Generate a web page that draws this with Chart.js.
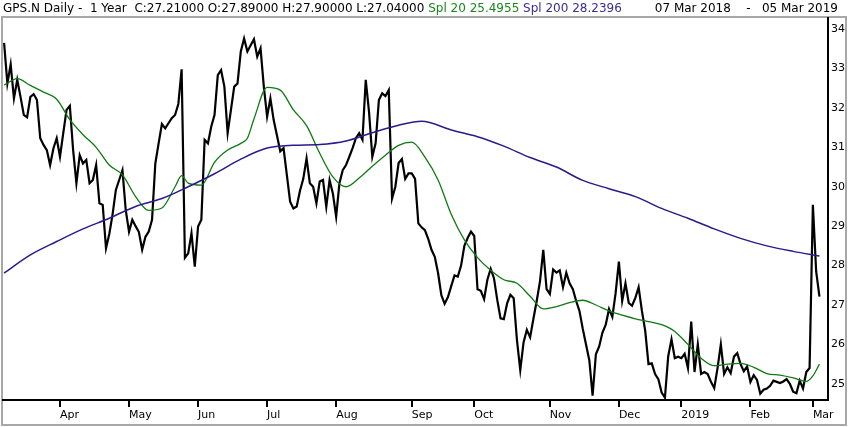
<!DOCTYPE html>
<html>
<head>
<meta charset="utf-8">
<script src="https://cdn.jsdelivr.net/npm/chart.js@4.4.1/dist/chart.umd.min.js"></script>
<style>
  html, body { margin: 0; padding: 0; background: #fff; }
  #wrap { position: relative; width: 850px; height: 427px; overflow: hidden; }
  #frame {
    position: absolute; left: 1px; top: 16px; width: 846px; height: 410px;
    border: 2px solid #a8a8a8; box-sizing: border-box;
  }
  #chart { position: absolute; left: 0; top: 0; }
  .hdr {
    position: absolute; top: 0; font-family: "DejaVu Sans", sans-serif;
    font-size: 12px; line-height: 16px; white-space: pre; color: #000;
  }
  #title { left: 3px; }
  #range { right: 12px; }
  .g { color: #1a861a; }
  .p { color: #3b2d91; }
</style>
</head>
<body>
<div id="wrap">
  <div id="frame"></div>
  <canvas id="chart" width="850" height="427"></canvas>
  <div class="hdr" id="title">GPS.N Daily -  1 Year  C:27.21000 O:27.89000 H:27.90000 L:27.04000 <span class="g">Spl 20 25.4955</span> <span class="p">Spl 200 28.2396</span></div>
  <div class="hdr" id="range">07 Mar 2018    -   05 Mar 2019</div>
</div>
<script>
// daily closes, one per trading day (07 Mar 2018 .. 05 Mar 2019)
const closes = [
  33.65, 32.62, 33.1, 32.24, 32.71, 32.28, 31.82, 31.76, 32.28, 32.35,
  32.2, 31.23, 31.06, 30.93, 30.55, 30.97, 31.23, 30.76, 31.36, 31.95,
  32.05, 30.93, 30.09, 30.8, 30.59, 30.68, 30.09, 30.17, 30.55, 29.58,
  29.54, 28.44, 28.8, 29.3, 29.92, 30.17, 30.42, 29.41, 28.86, 29.16,
  29.0, 28.85, 28.4, 28.73, 28.86, 29.16, 30.59, 31.1, 31.59, 31.48,
  31.61, 31.74, 31.82, 32.1, 32.98, 28.2, 28.31, 28.82, 27.97, 28.99,
  29.16, 31.19, 31.1, 31.52, 31.82, 32.83, 32.96, 32.54, 31.36, 31.95,
  32.54, 32.62, 33.43, 33.76, 33.43, 33.59, 33.74, 33.3, 33.51, 32.54,
  31.78, 32.24, 31.69, 31.3, 30.9, 30.98, 30.3, 29.62, 29.45, 29.5,
  29.9, 30.2, 30.72, 30.09, 30.0, 29.58, 30.13, 30.17, 29.49, 30.17,
  29.83, 29.24, 30.09, 30.42, 30.55, 30.76, 30.98, 31.23, 31.36, 31.19,
  32.71, 31.9, 30.76, 31.1, 32.2, 32.37, 32.3, 32.45, 29.7, 30.0,
  30.6, 30.7, 30.2, 30.34, 30.34, 30.2, 29.07, 28.97, 28.9, 28.68,
  28.4, 28.22, 27.81, 27.25, 27.03, 27.2, 27.48, 27.75, 27.72, 28.0,
  28.5, 28.7, 28.86, 28.75, 27.4, 27.36, 27.15, 27.64, 27.92, 27.68,
  27.13, 26.66, 26.64, 27.04, 27.26, 27.17, 26.1, 25.35, 26.05, 26.37,
  26.18, 26.65, 27.1, 27.6, 28.4, 27.4, 27.28, 27.9, 27.82, 27.88,
  27.45, 27.82, 27.55, 27.4, 27.1, 26.85, 26.4, 26.0, 25.6, 24.7,
  25.75, 25.95, 26.3, 26.5, 26.9, 26.7, 27.3, 28.1, 27.1, 27.55,
  27.05, 26.98, 27.18, 27.45, 26.85, 26.35, 25.5, 25.52, 25.25, 25.12,
  24.78, 24.65, 25.7, 26.13, 25.65, 25.69, 25.65, 25.76, 25.4, 26.58,
  25.3, 26.0, 25.25, 25.3, 25.25, 25.05, 24.89, 25.4, 26.0, 25.25,
  25.42, 25.27, 25.69, 25.78, 25.5, 25.32, 25.44, 25.05, 25.22, 25.1,
  24.75, 24.85, 24.88, 24.95, 25.08, 25.05, 25.02, 25.06, 25.12, 25.0,
  24.8, 24.76, 25.08, 24.88, 25.3, 25.4, 29.54, 27.85, 27.21,
];

// Spl 20 (green) read at sampled trading days
const spl20Days = [
  0, 4, 8, 12, 16, 20, 24, 28, 32, 36, 40, 44, 48, 52, 54, 56, 60, 64,
  68, 72, 74, 76, 80, 84, 88, 92, 96, 100, 104, 108, 112, 116, 120, 124,
  128, 132, 136, 140, 144, 148, 152, 156, 160, 164, 168, 172, 176, 180,
  184, 188, 192, 196, 200, 204, 208, 212, 216, 220, 224, 228, 232, 236,
  240, 244, 246, 248,
];
const spl20Values = [
  32.58, 32.74, 32.57, 32.4, 32.22, 31.7, 31.32, 31.0, 30.55, 30.3, 29.75,
  29.4, 29.46, 30.0, 30.28, 30.09, 30.04, 30.62, 30.93, 31.1, 31.23, 31.72,
  32.52, 32.45, 31.95, 31.55, 30.85, 30.25, 30.0, 30.22, 30.52, 30.8, 31.05,
  31.13, 30.75, 30.17, 29.3, 28.65, 28.2, 27.88, 27.64, 27.55, 27.22, 26.9,
  26.96, 27.06, 27.12, 27.0, 26.85, 26.74, 26.65, 26.58, 26.5, 26.33, 26.0,
  25.65, 25.46, 25.5, 25.52, 25.42, 25.26, 25.22, 25.15, 25.06, 25.2, 25.5,
];

// Spl 200 (blue) read at sampled trading days
const spl200Days = [
  0, 8, 16, 24, 32, 40, 48, 56, 64, 72, 80, 88, 96, 104, 112, 120, 127,
  136, 144, 152, 160, 168, 176, 184, 192, 200, 208, 216, 224, 232, 240, 248,
];
const spl200Values = [
  27.81, 28.27, 28.61, 28.93, 29.2, 29.5, 29.7, 30.0, 30.33, 30.7, 30.98,
  31.05, 31.07, 31.16, 31.37, 31.56, 31.66, 31.44, 31.27, 31.03, 30.74,
  30.5, 30.16, 29.95, 29.75, 29.45, 29.2, 28.93, 28.69, 28.5, 28.36, 28.24,
];

const monthStartDays = [17, 38, 59, 80, 101, 124, 143, 166, 187, 206, 227, 246];
const monthLabels = ["Apr", "May", "Jun", "Jul", "Aug", "Sep", "Oct", "Nov", "Dec", "2019", "Feb", "Mar"];
const priceTicks = [25, 26, 27, 28, 29, 30, 31, 32, 33, 34];

const axisFont = { family: "DejaVu Sans", size: 11 };

new Chart(document.getElementById("chart"), {
  type: "line",
  data: {
    datasets: [
      {
        label: "Spl 200",
        data: spl200Days.map((d, i) => ({ x: d, y: spl200Values[i] })),
        borderColor: "#2a1a8c",
        borderWidth: 1.5,
        cubicInterpolationMode: "monotone",
      },
      {
        label: "Spl 20",
        data: spl20Days.map((d, i) => ({ x: d, y: spl20Values[i] })),
        borderColor: "#0f7a12",
        borderWidth: 1.3,
        cubicInterpolationMode: "monotone",
      },
      {
        label: "GPS.N",
        data: closes.map((c, i) => ({ x: i, y: c })),
        borderColor: "#000",
        borderWidth: 2.2,
        tension: 0,
      },
    ],
  },
  options: {
    responsive: false,
    animation: false,
    layout: { padding: { left: 3, top: 18, right: 0, bottom: 0 } },
    elements: { point: { radius: 0 } },
    plugins: { legend: { display: false }, tooltip: { enabled: false } },
    scales: {
      x: {
        type: "linear",
        min: -0.33,
        max: 250.6,
        grid: {
          display: true,
          drawOnChartArea: false,
          drawTicks: true,
          tickLength: 7,
          color: "#000",
          lineWidth: 2,
        },
        border: { display: true, color: "#000", width: 2 },
        ticks: {
          align: "start",
          autoSkip: false,
          maxRotation: 0,
          padding: 2,
          color: "#000",
          font: axisFont,
          callback: (v) => monthLabels[monthStartDays.indexOf(v)],
        },
        afterBuildTicks: (axis) => {
          axis.ticks = monthStartDays.map((v) => ({ value: v }));
        },
        afterFit: (axis) => {
          axis.height = 27;
        },
      },
      y: {
        position: "right",
        min: 24.59,
        max: 34.28,
        grid: { display: false, drawTicks: false, tickLength: 0 },
        border: { display: true, color: "#000", width: 2 },
        ticks: { padding: 3, color: "#000", font: axisFont },
        afterBuildTicks: (axis) => {
          axis.ticks = priceTicks.map((v) => ({ value: v }));
        },
        afterFit: (axis) => {
          axis.width = 22;
        },
      },
    },
  },
});
</script>
</body>
</html>
